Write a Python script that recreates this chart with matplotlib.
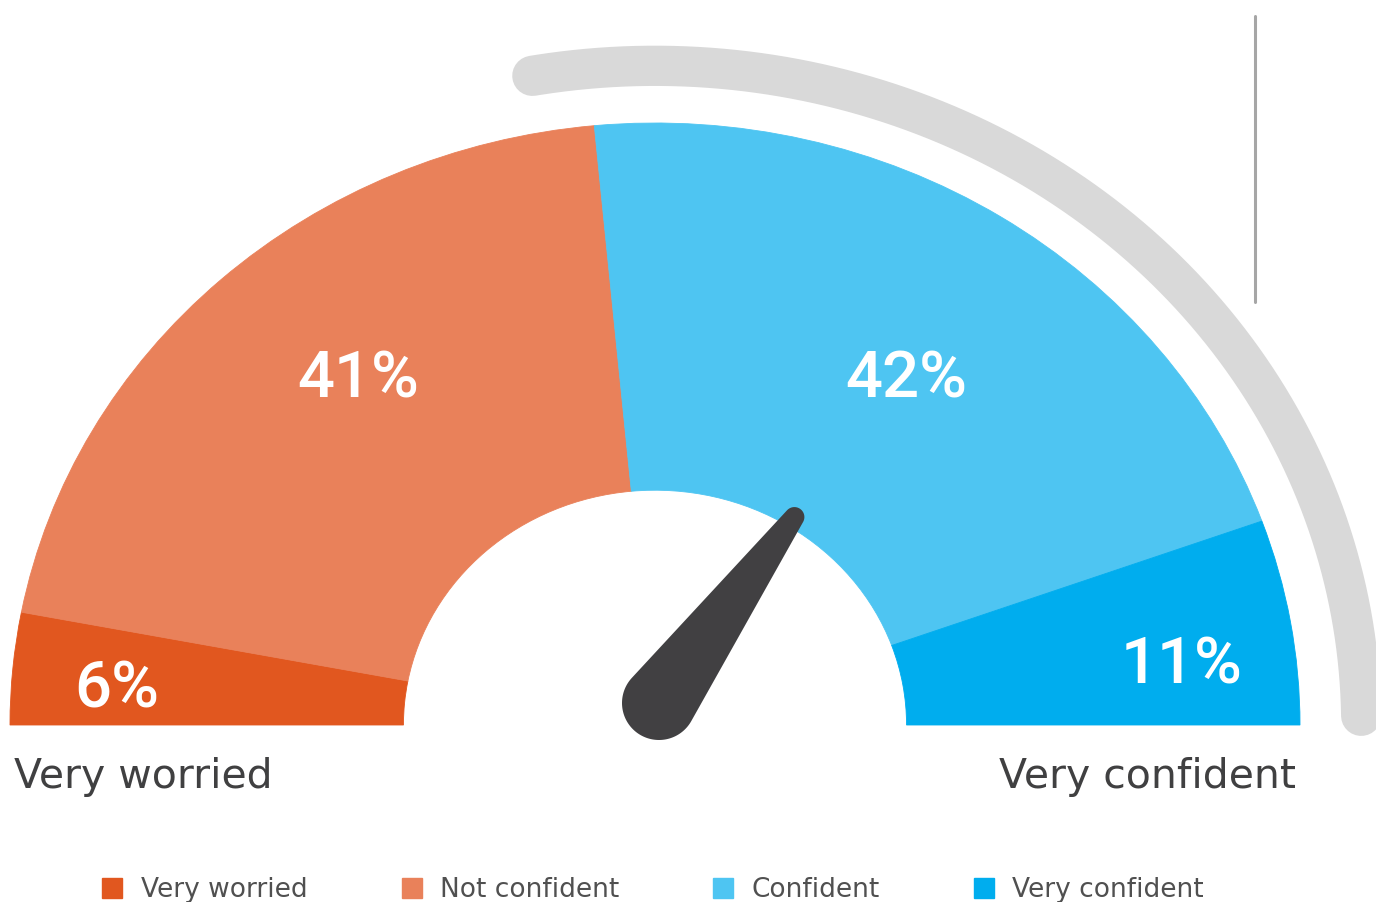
import numpy as np
import matplotlib
matplotlib.use("Agg")
import matplotlib.pyplot as plt
from matplotlib.patches import Wedge, Polygon
from matplotlib.lines import Line2D

# data
categorias = ["Very worried", "Not confident", "Confident", "Very confident"]
percentuais = [6, 41, 42, 11]
cores = ["#E1571F", "#E9815A", "#4EC5F2", "#00ADEE"]
rotulos_pct = ["6%", "41%", "42%", "11%"]
extremos = ["Very worried", "Very confident"]
ponteiro = 0.69  # needle position, fraction of the scale from "Very worried"

W, H = 1376, 902
cx, cy = 655, 725          # gauge centre (pixels)
sx, sy = 645.0, 602.0      # pixels per unit, x / y (gauge is slightly wide)

fig = plt.figure(figsize=(W / 100, H / 100), dpi=100)
ax = fig.add_axes([0, 0, 1, 1])
ax.set_xlim(-cx / sx, (W - cx) / sx)
ax.set_ylim(-(H - cy) / sy, cy / sy)
ax.axis("off")


def px(x, y):
    return (x - cx) / sx, (cy - y) / sy


# gauge wedges, from left (180 deg) to right (0 deg)
r_ext, r_int = 1.0, 0.39
ang = 180.0
for p, c in zip(percentuais, cores):
    a2 = ang
    a1 = ang - 180.0 * p / 100.0
    ax.add_patch(Wedge((0, 0), r_ext, a1, a2, width=r_ext - r_int,
                       facecolor=c, edgecolor=c, linewidth=0.6))
    ang = a1

# grey arc around the confident side
t = np.radians(np.linspace(0.8, 100, 200))
ax.plot(1.095 * np.cos(t), 1.095 * np.sin(t), color="#D9D9D9", lw=29,
        solid_capstyle="round", zorder=1)

# thin vertical line at the top right
x0, y0 = px(1255, 16)
x1, y1 = px(1255, 302)
ax.plot([x0, x1], [y0, y1], color="#A6A6A6", lw=2.2, solid_capstyle="round")

# needle (built in pixel units, then scaled into the axes)
bx, by = px(659, 703)
teta = np.radians(180.0 * (1 - ponteiro))
dxp, dyp = np.cos(teta) * sx, np.sin(teta) * sy
fi = np.arctan2(dyp, dxp)
comp, r1, r2 = 230.0, 37.0, 10.0
alfa = np.arccos((r1 - r2) / comp)
tx, ty = comp * np.cos(fi), comp * np.sin(fi)
arco_ponta = np.linspace(fi - alfa, fi + alfa, 40)
arco_base = np.linspace(fi + alfa, fi - alfa + 2 * np.pi, 80)
xs = np.concatenate([tx + r2 * np.cos(arco_ponta), r1 * np.cos(arco_base)])
ys = np.concatenate([ty + r2 * np.sin(arco_ponta), r1 * np.sin(arco_base)])
pts = np.column_stack([bx + xs / sx, by + ys / sy])
ax.add_patch(Polygon(pts, closed=True, facecolor="#414042", edgecolor="none", zorder=5))

# percentage labels
fonte_num = ["Roboto", "DejaVu Sans"]
pos_num = [(117, 690), (358, 379), (906, 379), (1182, 666)]
for txt, (x, y) in zip(rotulos_pct, pos_num):
    ax.text(*px(x, y), txt, color="white", fontsize=47, family=fonte_num,
            weight="medium", ha="center", va="center", zorder=6)

# end labels
fonte = ["DejaVu Sans"]
ax.text(*px(14, 788), extremos[0], color="#404041", fontsize=29.5, family=fonte,
        ha="left", va="baseline")
ax.text(*px(1296, 788), extremos[1], color="#404041", fontsize=29.5, family=fonte,
        ha="right", va="baseline")

# legend
handles = [Line2D([], [], marker="s", linestyle="none", markersize=15,
                  markerfacecolor=c, markeredgecolor=c) for c in cores]
fig.legend(handles, categorias, ncol=4, loc="center", bbox_to_anchor=(0.4735, 0.0128),
           frameon=False, prop={"family": fonte, "size": 19}, labelcolor="#505050",
           handletextpad=0.57, columnspacing=3.45, handlelength=1.0, borderpad=0)

fig.savefig("out.png", dpi=100)
